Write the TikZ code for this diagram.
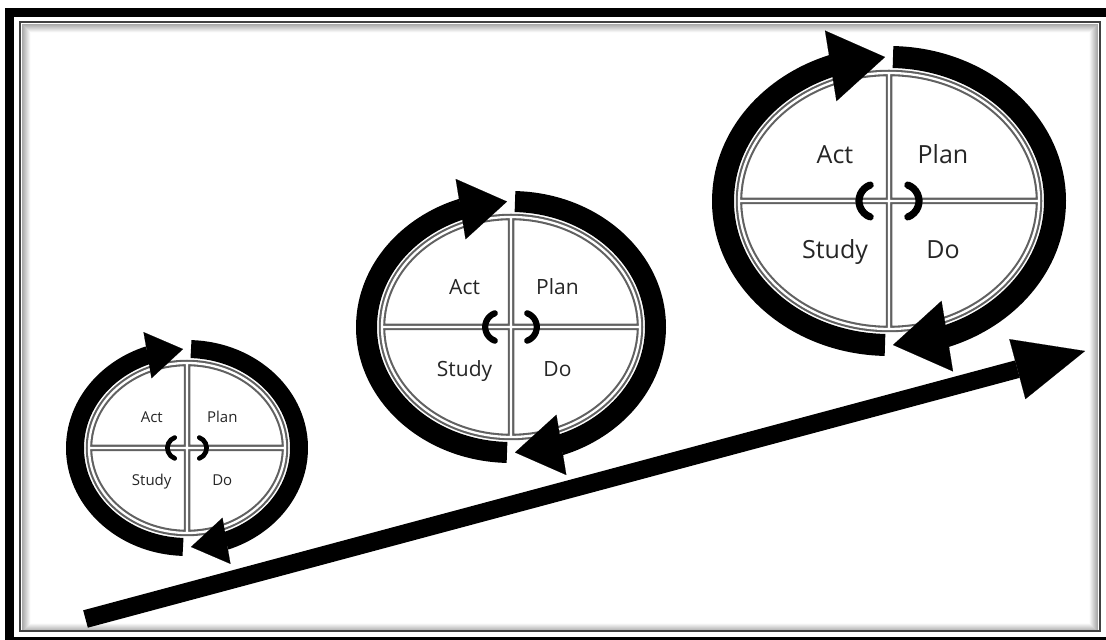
\documentclass[tikz,border=0pt]{standalone}
\usepackage{fontspec}
\setmainfont{Open Sans}
\usetikzlibrary{arrows.meta,bending}

\tikzset{
  quadline/.style={line width=6.5pt, draw=black!62},
  quadcore/.style={line width=2.3pt, draw=white},
  centerarc/.style={line width=#1pt, line cap=round, draw=black},
  phase/.style={inner sep=0pt, text depth=0pt, text=black!85},
  ringarc/.style={draw=black, line cap=butt},
  bigarrow/.style={draw=black, line width=18pt, line cap=butt},
}

% One PDSA wheel: quartered ellipse with a ring of two arrows around it.
% #1 name, #2/#3 centre, #4/#5 radii of the quartered ellipse,
% #6 ring width, #7 font size, #8 arrow-head length
\newcommand{\pdsacycle}[8]{%
  \begin{scope}[shift={(#2,#3)}]
    \pgfmathsetmacro{\Rx}{#4+5+#6/2}
    \pgfmathsetmacro{\Ry}{#5+5+#6/2}
    \pgfmathsetmacro{\gp}{asin(4/\Rx)}
    \pgfmathsetmacro{\aw}{1.3*#8}
    \pgfmathsetmacro{\bd}{0.087*#4}
    \pgfmathsetmacro{\brad}{0.113*#4}
    \pgfmathsetmacro{\bw}{0.048*#4}
    \pgfmathsetmacro{\lx}{0.36*#4}
    \pgfmathsetmacro{\uy}{0.36*#5}
    \pgfmathsetmacro{\dy}{0.38*#5}
    \pgfmathsetmacro{\capht}{0.714*#7}
    \pgfmathsetmacro{\aA}{270-\gp}
    \pgfmathsetmacro{\aB}{90+\gp}
    \pgfmathsetmacro{\aC}{90-\gp}
    \pgfmathsetmacro{\aD}{-90+\gp}
    \coordinate (#1) at (0,0);
    % quartered ellipse, drawn as a double line
    \draw[quadline] (0,0) ellipse[x radius=#4, y radius=#5]
      (-#4,0) -- (#4,0) (0,#5) -- (0,-#5);
    \draw[quadcore] (0,0) ellipse[x radius=#4, y radius=#5]
      (-#4,0) -- (#4,0) (0,#5) -- (0,-#5);
    % the two small arcs in the middle
    \draw[centerarc=\bw, shift={(-\bd,0)}] (110:\brad) arc[start angle=110, end angle=250, radius=\brad];
    \draw[centerarc=\bw, shift={(\bd,0)}] (70:\brad) arc[start angle=70, end angle=-70, radius=\brad];
    % phase labels
    \node[phase, text height=\capht pt, font=\fontsize{#7}{#7}\selectfont] (#1act) at (-\lx,\uy) {Act};
    \node[phase, text height=\capht pt, font=\fontsize{#7}{#7}\selectfont] (#1plan) at (\lx,\uy) {Plan};
    \node[phase, text height=\capht pt, font=\fontsize{#7}{#7}\selectfont] (#1study) at (-\lx,-\dy) {Study};
    \node[phase, text height=\capht pt, font=\fontsize{#7}{#7}\selectfont] (#1do) at (\lx,-\dy) {Do};
    % ring: left half up to the top, right half down to the bottom
    \draw[ringarc, line width=#6pt, -{Triangle[length=#8pt, width=\aw pt, line width=0.1pt]}]
      ({\aA}:{\Rx} and {\Ry}) arc[start angle=\aA, end angle=\aB, x radius=\Rx, y radius=\Ry];
    \draw[ringarc, line width=#6pt, -{Triangle[length=#8pt, width=\aw pt, line width=0.1pt]}]
      ({\aC}:{\Rx} and {\Ry}) arc[start angle=\aC, end angle=\aD, x radius=\Rx, y radius=\Ry];
  \end{scope}}

\begin{document}
\begin{tikzpicture}[x=1pt, y=1pt]
  \useasboundingbox (0,0) rectangle (1106,640);
  \clip (0,0) rectangle (1106,640);
  \fill[white] (0,0) rectangle (1106,640);

  % frame: heavy black outer border, thin grey inner border with soft shading
  \draw[black, line width=9pt] (9.5,627.5) rectangle (1112,-1.5);
  \foreach \i in {1,...,9} {
    \pgfmathsetmacro{\sh}{38-4.1*\i}
    \draw[black!\sh, line width=1.1pt] (21.25+\i,9-1.25+\i) rectangle (1098.75-\i,618-1.25-\i);
  }
  \draw[black!75, line width=2.5pt] (20,9) rectangle (1100,618);

  % rising arrow
  \coordinate (risetail) at (85.5,21);
  \coordinate (risetip) at (1085,289);
  \draw[bigarrow, -{Triangle[length=70pt, width=62pt, line width=0.1pt]}] (risetail) -- (risetip);

  % three cycles of growing size
  \pdsacycle{small}{187}{192}{98}{85}{18}{15}{36}
  \pdsacycle{mid}{511}{313}{129}{110}{21}{21}{47}
  \pdsacycle{large}{889}{439}{150}{128}{22}{25}{55}
\end{tikzpicture}
\end{document}
